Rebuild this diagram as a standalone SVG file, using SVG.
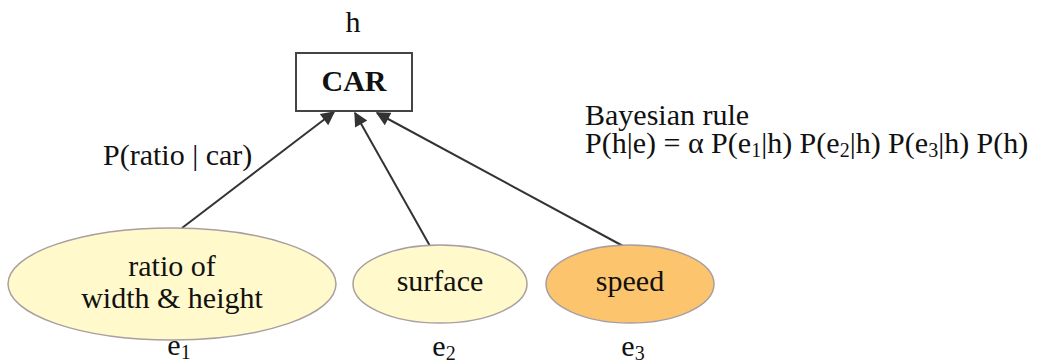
<svg xmlns="http://www.w3.org/2000/svg" width="1048" height="363" viewBox="0 0 1048 363" font-family="'Liberation Serif','DejaVu Serif','Times New Roman',serif">
<style>
text{font-family:'Liberation Serif','DejaVu Serif','Times New Roman',serif;font-size:30px;fill:#111}
.c{text-anchor:middle}
.sub{font-size:20px}
.ev{stroke:#a89f9f;stroke-width:1.5}
.edge{stroke:#333;stroke-width:2;fill:none;marker-end:url(#ah)}
</style>
<defs>
<marker id="ah" viewBox="0 0 10 10" refX="9" refY="5" markerWidth="16" markerHeight="14" markerUnits="userSpaceOnUse" orient="auto">
<path d="M0,0 L10,5 L0,10 z" fill="#333"/>
</marker>
</defs>
<rect width="1048" height="363" fill="#fff"/>
<g id="connectors">
<line class="edge" x1="182" y1="228" x2="334" y2="112"/>
<line class="edge" x1="430" y1="246" x2="355" y2="113"/>
<line class="edge" x1="623" y1="246" x2="377" y2="113"/>
</g>
<g id="car">
<text class="c" x="353" y="32">h</text>
<rect x="296" y="53" width="116" height="58" fill="#fff" stroke="#444" stroke-width="2"/>
<text class="c" x="354" y="91" font-weight="bold">CAR</text>
</g>
<g id="e1">
<ellipse class="ev" cx="172" cy="284" rx="164" ry="56" fill="#fff9cc"/>
<text class="c" x="172" y="276">ratio of</text>
<text class="c" x="172" y="308">width &amp; height</text>
<text class="c" x="179" y="355">e<tspan class="sub" dy="4">1</tspan></text>
</g>
<g id="e2">
<ellipse class="ev" cx="440" cy="284" rx="87" ry="39" fill="#fff9cc"/>
<text class="c" x="440" y="291">surface</text>
<text class="c" x="444" y="356">e<tspan class="sub" dy="4">2</tspan></text>
</g>
<g id="e3">
<ellipse class="ev" cx="630" cy="284" rx="84" ry="39" fill="#fdc46e"/>
<text class="c" x="630" y="291">speed</text>
<text class="c" x="633" y="356">e<tspan class="sub" dy="4">3</tspan></text>
</g>
<text x="103" y="165">P(ratio | car)</text>
<text x="585" y="125">Bayesian rule</text>
<text x="585" y="153">P(h|e) = α P(e<tspan class="sub" dy="4">1</tspan><tspan dy="-4">|h) P(e</tspan><tspan class="sub" dy="4">2</tspan><tspan dy="-4">|h) P(e</tspan><tspan class="sub" dy="4">3</tspan><tspan dy="-4">|h) P(h)</tspan></text>
</svg>
